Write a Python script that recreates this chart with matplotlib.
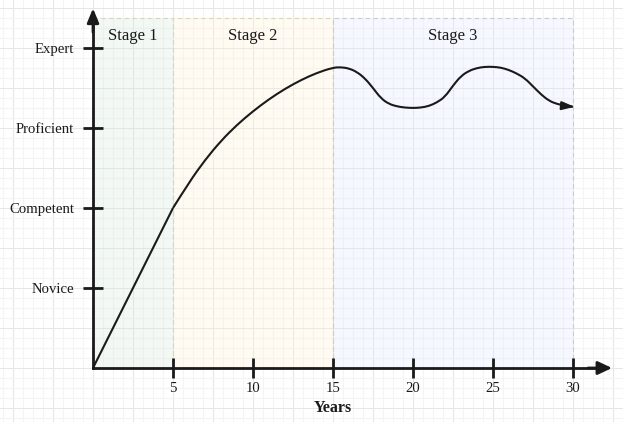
import matplotlib
matplotlib.use('Agg')
import matplotlib.pyplot as plt
from matplotlib.ticker import MultipleLocator
from matplotlib.patches import Rectangle, ArrowStyle, PathPatch
from matplotlib.path import Path

# ---------------- data ----------------
level_ticks = [1, 2, 3, 4]
level_labels = ['Novice', 'Competent', 'Proficient', 'Expert']
year_ticks = [5, 10, 15, 20, 25, 30]

stage_names = ['Stage 1', 'Stage 2', 'Stage 3']
stage_starts = [0, 5, 15]
stage_ends = [5, 15, 30]
stage_top = 4.375

# straight novice ramp, then a smooth curve from year 5 on
ramp_years = [0, 5]
ramp_levels = [0, 2.0]
curve_years = [5, 6, 7, 8, 9, 10, 11, 12, 13, 14,
               15, 15.5, 16, 16.5, 17, 17.5, 18, 18.5, 19, 19.5,
               20, 20.5, 21, 21.5, 22, 22.5, 23, 23.5, 24, 24.5,
               25, 25.5, 26, 26.5, 27, 27.5, 28, 28.5, 29, 29.5, 30]
curve_levels = [2.0, 2.32, 2.60, 2.84, 3.04, 3.21, 3.36, 3.49, 3.60, 3.69,
                3.755, 3.76, 3.745, 3.70, 3.62, 3.50, 3.37, 3.30, 3.27, 3.255,
                3.25, 3.255, 3.275, 3.32, 3.39, 3.53, 3.65, 3.715, 3.75, 3.765,
                3.765, 3.755, 3.725, 3.68, 3.62, 3.52, 3.42, 3.34, 3.30, 3.28, 3.265]

# ---------------- style ----------------
stage_fills = [(215/255, 232/255, 218/255, 0.3),
               (255/255, 242/255, 212/255, 0.3),
               (222/255, 235/255, 255/255, 0.3)]
stage_edges = ['#d3d8c0', '#dcd6b8', '#c6cbd6']
ink = '#1a1a1a'

plt.rcParams['font.family'] = ['Liberation Serif', 'DejaVu Serif']

W, H = 623, 422
fig = plt.figure(figsize=(W / 100, H / 100), dpi=100)
fig.patch.set_facecolor('white')

# background grid (pixel space)
bg = fig.add_axes([0, 0, 1, 1])
bg.set_xlim(0, W)
bg.set_ylim(H, 0)
bg.xaxis.set_major_locator(MultipleLocator(40, offset=13))
bg.xaxis.set_minor_locator(MultipleLocator(10, offset=3))
bg.yaxis.set_major_locator(MultipleLocator(40, offset=8))
bg.yaxis.set_minor_locator(MultipleLocator(10, offset=8))
bg.grid(which='major', color='#e6e6e6', lw=0.75)
bg.grid(which='minor', color='#f4f4f4', lw=0.75)
bg.tick_params(which='both', length=0, labelbottom=False, labelleft=False)
for s in bg.spines.values():
    s.set_visible(False)

# main axes: origin at pixel (93, 368), 16 px per year, 80 px per level
ax = fig.add_axes([0, 0, 1, 1], facecolor='none')
ax.set_xlim(-93 / 16, (W - 93) / 16)
ax.set_ylim((368 - H) / 80, 368 / 80)

for name, s0, s1, fc, ec in zip(stage_names, stage_starts, stage_ends, stage_fills, stage_edges):
    ax.add_patch(Rectangle((s0, 0), s1 - s0, stage_top, facecolor=fc, edgecolor=ec,
                           lw=0.8, ls=(0, (4, 3)), zorder=1))
    ax.text((s0 + s1) / 2, (368 - 36) / 80, name, ha='center', va='center',
            fontsize=12, color=ink, zorder=3)

ax.plot(ramp_years, ramp_levels, color=ink, lw=1.5, solid_capstyle='butt', zorder=4)

# smooth quadratic B-spline path through the sampled curve
pts = list(zip(curve_years, curve_levels))
verts = [pts[0]]
codes = [Path.MOVETO]
for i in range(1, len(pts) - 2):
    mid = ((pts[i][0] + pts[i + 1][0]) / 2, (pts[i][1] + pts[i + 1][1]) / 2)
    verts += [pts[i], mid]
    codes += [Path.CURVE3, Path.CURVE3]
verts += [pts[-2], pts[-1]]
codes += [Path.CURVE3, Path.CURVE3]
ax.add_patch(PathPatch(Path(verts, codes), facecolor='none', edgecolor=ink, lw=1.5,
                       capstyle='butt', joinstyle='round', zorder=4))

ax.annotate('', xy=(curve_years[-1] + 0.1, curve_levels[-1]),
            xytext=(curve_years[-2], curve_levels[-2] - 0.005),
            arrowprops=dict(arrowstyle=ArrowStyle('-|>', head_length=0.75, head_width=0.25),
                            mutation_scale=10, color=ink, lw=1.5, shrinkA=0, shrinkB=0),
            zorder=4)

# axes lines
x_tip = (612 - 93) / 16
y_tip = (368 - 8.3) / 80
for side in ['top', 'right']:
    ax.spines[side].set_visible(False)
ax.spines['left'].set_position(('data', 0))
ax.spines['bottom'].set_position(('data', 0))
ax.spines['left'].set_bounds(0, y_tip - 0.1)
ax.spines['bottom'].set_bounds(0, x_tip - 0.5)
for side in ['left', 'bottom']:
    ax.spines[side].set_linewidth(2)
    ax.spines[side].set_color(ink)
    ax.spines[side].set_zorder(5)

ax.annotate('', xy=(x_tip, 0), xytext=(x_tip - 1.5, 0),
            arrowprops=dict(arrowstyle=ArrowStyle('-|>', head_length=0.85, head_width=0.4),
                            mutation_scale=10, color=ink, lw=2, shrinkA=0, shrinkB=0),
            zorder=6)
ax.annotate('', xy=(0, y_tip), xytext=(0, y_tip - 0.3),
            arrowprops=dict(arrowstyle=ArrowStyle('-|>', head_length=0.85, head_width=0.35),
                            mutation_scale=10, color=ink, lw=2, shrinkA=0, shrinkB=0),
            zorder=6)

ax.set_xticks(year_ticks)
ax.set_xticklabels([str(v) for v in year_ticks])
ax.set_yticks(level_ticks)
ax.set_yticklabels(level_labels)
ax.tick_params(axis='both', direction='inout', length=14.4, width=2, color=ink,
               labelsize=10.6, labelcolor=ink)
ax.tick_params(axis='x', pad=3)
ax.tick_params(axis='y', pad=6.5)

ax.text(15, (368 - 408) / 80, 'Years', ha='center', va='center', fontsize=11.5,
        fontweight='bold', color=ink)

fig.savefig('out.png', dpi=100)
